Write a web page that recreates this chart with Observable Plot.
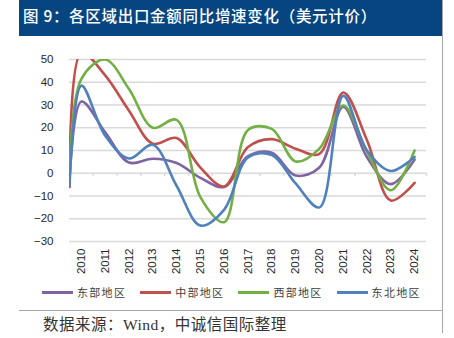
<!DOCTYPE html>
<html>
<head>
<meta charset="utf-8">
<script src="https://cdn.jsdelivr.net/npm/d3@7"></script>
<script src="https://cdn.jsdelivr.net/npm/@observablehq/plot@0.6"></script>
<style>
  html, body { margin: 0; padding: 0; background: #fff; }
  #wrap { position: relative; width: 454px; height: 338px; overflow: hidden; background: #fff; }
  #titlebar { position: absolute; left: 19px; top: 0; width: 423px; height: 36px; background: #06457f; }
  #title { position: absolute; left: 4px; top: 0; height: 30px; line-height: 30px; color: #fff; font-family: "Noto Sans CJK SC", sans-serif; font-size: 15.5px; font-weight: 500; white-space: nowrap; letter-spacing: 0.7px; }
  #vline { position: absolute; left: 442px; top: 0; width: 1px; height: 333px; background: #a6a6a6; }
  #chart { position: absolute; left: 0; top: 40px; }
  #legend { position: absolute; left: 42px; top: 284px; height: 16px; display: flex; align-items: center; font-family: "Noto Sans CJK SC", sans-serif; font-size: 11px; color: #404040; letter-spacing: 1.3px; white-space: nowrap; }
  .item { display: flex; align-items: center; margin-right: 14px; }
  .swatch { width: 31px; height: 3px; margin-right: 4px; }
  #sep { position: absolute; left: 19px; top: 310px; width: 423px; height: 1px; background: #a6a6a6; }
  #source { position: absolute; left: 43px; top: 312px; font-family: "Noto Sans CJK SC", sans-serif; font-size: 15.5px; letter-spacing: 0.5px; color: #333; white-space: nowrap; }
  #source .lat { font-family: "Liberation Serif", serif; }
</style>
</head>
<body>
<div id="wrap">
  <div id="titlebar"><div id="title">图 9：各区域出口金额同比增速变化（美元计价）</div></div>
  <div id="vline"></div>
  <div id="chart"></div>
  <div id="legend"></div>
  <div id="sep"></div>
  <div id="source">数据来源：<span class="lat">Wind</span>，中诚信国际整理</div>
</div>
<script>
// x positions: first point is the curve start at the left edge, then yearly values
const xs = [2009.5, 2010, 2011, 2012, 2013, 2014, 2015, 2016, 2017, 2018, 2019, 2020, 2021, 2022, 2023, 2024];
const yearLabels = [2010, 2011, 2012, 2013, 2014, 2015, 2016, 2017, 2018, 2019, 2020, 2021, 2022, 2023, 2024];
const east      = [-3, 31.5, 18, 4.7, 6.4, 4.5, -2, -6, 7.5, 9, -1, 2.5, 29.3, 7, -4.8, 6];
const central   = [-6, 53, 43, 27.5, 13, 15.5, 2.5, -5.8, 11.5, 15, 10.8, 8.5, 35.5, 14.5, -12, -4.2];
const west      = [-2, 41.5, 50, 37, 20, 23.5, -10.5, -21.5, 19, 19.5, 5.2, 10.8, 29.8, 9.5, -7.5, 10];
const northeast = [-5, 38.5, 16.5, 6.5, 12.5, -5.5, -23, -16, 7, 8, -4.5, -15, 34, 10, 1, 7.2];
const seriesNames = ["东部地区", "中部地区", "西部地区", "东北地区"];
const seriesColors = ["#8064a2", "#c0504d", "#72b043", "#4f81bd"];
const yTicks = [-30, -20, -10, 0, 10, 20, 30, 40, 50];
const boundaries = [2009.5, 2010.5, 2011.5, 2012.5, 2013.5, 2014.5, 2015.5, 2016.5, 2017.5, 2018.5, 2019.5, 2020.5, 2021.5, 2022.5, 2023.5, 2024.5];

const allSeries = [east, central, west, northeast];
const rows = [];
allSeries.forEach((vals, i) => vals.forEach((v, j) => rows.push({name: seriesNames[i], x: xs[j], v})));

const plot = Plot.plot({
  width: 454,
  height: 240,
  marginLeft: 69,
  marginRight: 28,
  marginTop: 19,
  marginBottom: 39,
  style: {fontFamily: "'Liberation Sans', Arial, sans-serif", fontSize: "11.5px", color: "#262626", background: "transparent"},
  x: {domain: [2009.5, 2024.5]},
  y: {domain: [-30, 50]},
  color: {domain: seriesNames, range: seriesColors},
  marks: [
    Plot.ruleY(yTicks.filter(d => d !== 0), {stroke: "#d9d9d9", strokeWidth: 1.5}),
    Plot.ruleY([0], {stroke: "#d9d9d9", strokeWidth: 1.5}),
    Plot.ruleX(boundaries, {x: d => d, y1: 0, y2: -1.4, stroke: "#d9d9d9", strokeWidth: 1.5}),
    Plot.axisY({ticks: yTicks, tickSize: 0, tickPadding: 16, label: null, fontSize: 11.5}),
    Plot.axisX({ticks: yearLabels, tickFormat: d => String(d), tickRotate: -90, tickSize: 0, tickPadding: 7, label: null, fontSize: 11.5}),
    Plot.line(rows, {x: "x", y: "v", z: "name", stroke: "name", strokeWidth: 2.6, curve: "catmull-rom", clip: true})
  ]
});
document.getElementById("chart").appendChild(plot);

const legend = document.getElementById("legend");
seriesNames.forEach((n, i) => {
  const item = document.createElement("div");
  item.className = "item";
  const sw = document.createElement("div");
  sw.className = "swatch";
  sw.style.background = seriesColors[i];
  const tx = document.createElement("span");
  tx.textContent = n;
  item.appendChild(sw);
  item.appendChild(tx);
  legend.appendChild(item);
});
</script>
</body>
</html>
